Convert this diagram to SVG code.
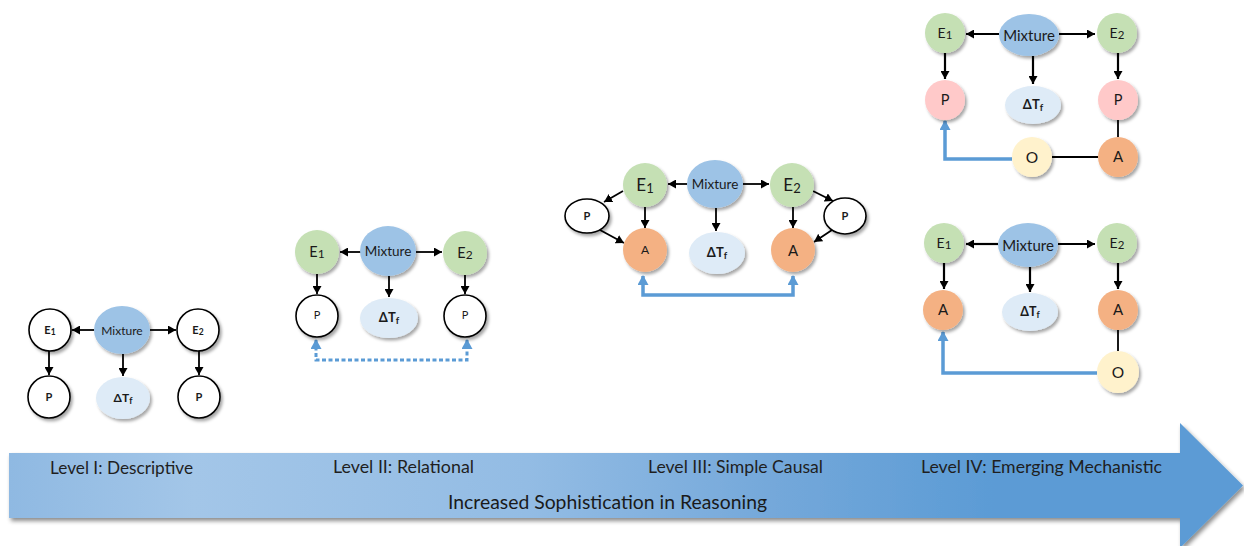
<svg xmlns="http://www.w3.org/2000/svg" width="1244" height="546" viewBox="0 0 1244 546">
  <defs>
    <style>
      text { font-family: Lato, "Liberation Sans", Arial, sans-serif; fill: #1a1a1a; text-anchor: middle; }
      .white { fill: #ffffff; stroke: #000000; stroke-width: 1.6; filter: url(#shadow); }
      .green { fill: #c5e0b4; filter: url(#shadow); }
      .mix { fill: #9dc3e6; filter: url(#shadow); }
      .dt { fill: #deebf7; filter: url(#shadow); }
      .orange { fill: #f4b183; filter: url(#shadow); }
      .pink { fill: #ffc9c9; filter: url(#shadow); }
      .yellow { fill: #fff2cc; filter: url(#shadow); }
      .edge { stroke: #000000; stroke-width: 1.8; fill: none; }
      .thick { stroke-width: 2.2; }
      .arr { marker-end: url(#head); }
      .blue { stroke: #5b9bd5; stroke-width: 3.5; fill: none; }
      .dotted { stroke-dasharray: 4 2.5; stroke-width: 3; }
      .b { font-weight: bold; }
      .lvl { font-size: 16.5px; fill: #1f1f1f; }
    </style>
    <filter id="shadow" x="-30%" y="-30%" width="170%" height="170%">
      <feDropShadow dx="2" dy="2.5" stdDeviation="1.6" flood-color="#000" flood-opacity="0.35"/>
    </filter>
    <filter id="bandShadow" x="-5%" y="-20%" width="110%" height="150%">
      <feDropShadow dx="2" dy="3" stdDeviation="2" flood-color="#000" flood-opacity="0.45"/>
    </filter>
    <linearGradient id="band" x1="9" y1="0" x2="1243" y2="0" gradientUnits="userSpaceOnUse">
      <stop offset="0" stop-color="#8fb9e2"/>
      <stop offset="0.15" stop-color="#a3c6e8"/>
      <stop offset="0.42" stop-color="#93bce4"/>
      <stop offset="0.62" stop-color="#74a8da"/>
      <stop offset="0.8" stop-color="#5b9bd5"/>
      <stop offset="1" stop-color="#5b9bd5"/>
    </linearGradient>
    <marker id="head" markerUnits="userSpaceOnUse" markerWidth="9" markerHeight="9" refX="8" refY="4.5" orient="auto">
      <path d="M0,0 L8,4.5 L0,9 z" fill="#000"/>
    </marker>
    <marker id="bhead" markerUnits="userSpaceOnUse" markerWidth="11" markerHeight="11" refX="9" refY="5.5" orient="auto-start-reverse">
      <path d="M0,0 L10,5.5 L0,11 z" fill="#5b9bd5"/>
    </marker>
  </defs>

  <!-- progression band -->
  <g id="progress-arrow">
    <polygon points="9,453 1180,453 1180,423 1243,485.5 1180,548 1180,518 9,518" fill="url(#band)" filter="url(#bandShadow)"/>
    <text class="lvl" x="121.5" y="474" textLength="143" lengthAdjust="spacingAndGlyphs">Level I: Descriptive</text>
    <text class="lvl" x="403.5" y="473" textLength="141" lengthAdjust="spacingAndGlyphs">Level II: Relational</text>
    <text class="lvl" x="735.5" y="473" textLength="175" lengthAdjust="spacingAndGlyphs">Level III: Simple Causal</text>
    <text class="lvl" x="1041.5" y="473" textLength="241" lengthAdjust="spacingAndGlyphs">Level IV: Emerging Mechanistic</text>
    <text x="607.5" y="509" font-size="18.5" textLength="319" lengthAdjust="spacingAndGlyphs">Increased Sophistication in Reasoning</text>
  </g>

  <!-- connectors -->
  <g id="connectors">
    <!-- Level I -->
    <line class="edge arr" x1="94" y1="330" x2="72" y2="330"/>
    <line class="edge arr" x1="150" y1="330" x2="176" y2="330"/>
    <line class="edge arr" x1="49" y1="351" x2="49" y2="375"/>
    <line class="edge arr" x1="123" y1="354" x2="123" y2="376"/>
    <line class="edge arr" x1="199" y1="351" x2="199" y2="375"/>
    <!-- Level II -->
    <line class="edge arr" x1="361" y1="252" x2="340" y2="252"/>
    <line class="edge arr" x1="416" y1="252" x2="442" y2="252"/>
    <line class="edge arr" x1="317" y1="274" x2="317" y2="294"/>
    <line class="edge arr" x1="389" y1="276" x2="389" y2="297"/>
    <line class="edge arr" x1="465" y1="275" x2="465" y2="294"/>
    <path class="blue dotted" d="M316,340 V360 H467 V340" marker-start="url(#bhead)" marker-end="url(#bhead)"/>
    <!-- Level III -->
    <line class="edge arr" x1="687" y1="184" x2="668" y2="184"/>
    <line class="edge arr" x1="743" y1="184" x2="769" y2="184"/>
    <line class="edge arr" x1="623" y1="191" x2="604" y2="202"/>
    <line class="edge arr" x1="600" y1="230" x2="624" y2="243"/>
    <line class="edge arr" x1="645" y1="207" x2="645" y2="228"/>
    <line class="edge arr" x1="716" y1="208" x2="716" y2="231"/>
    <line class="edge arr" x1="793" y1="207" x2="793" y2="228"/>
    <line class="edge arr" x1="813" y1="191" x2="833" y2="201"/>
    <line class="edge arr" x1="832" y1="230" x2="814" y2="242"/>
    <path class="blue" d="M643,276 V295 H793 V276" marker-start="url(#bhead)" marker-end="url(#bhead)"/>
    <!-- Level IV, top -->
    <line class="edge thick arr" x1="999" y1="34" x2="966" y2="34"/>
    <line class="edge thick arr" x1="1059" y1="34" x2="1095" y2="34"/>
    <line class="edge thick arr" x1="945" y1="53" x2="945" y2="79"/>
    <line class="edge thick arr" x1="1033" y1="56" x2="1033" y2="84"/>
    <line class="edge thick arr" x1="1118" y1="53" x2="1118" y2="79"/>
    <line class="edge" x1="1118" y1="120" x2="1118" y2="137"/>
    <line class="edge" x1="1052" y1="157" x2="1098" y2="157"/>
    <path class="blue" d="M1012,159 H945 V121" marker-end="url(#bhead)"/>
    <!-- Level IV, bottom -->
    <line class="edge thick arr" x1="998" y1="244" x2="966" y2="244"/>
    <line class="edge thick arr" x1="1058" y1="244" x2="1095" y2="244"/>
    <line class="edge thick arr" x1="944" y1="263" x2="944" y2="289"/>
    <line class="edge thick arr" x1="1030" y1="267" x2="1030" y2="292"/>
    <line class="edge thick arr" x1="1118" y1="263" x2="1118" y2="289"/>
    <line class="edge" x1="1118" y1="330" x2="1118" y2="351"/>
    <path class="blue" d="M1097,373 H943 V332" marker-end="url(#bhead)"/>
  </g>

  <!-- Level I nodes -->
  <g id="l1-e1"><circle class="white" cx="50" cy="330" r="21"/><text class="b" x="50" y="334" font-size="11">E<tspan font-size="8.5" dy="1">1</tspan></text></g>
  <g id="l1-mixture"><ellipse class="mix" cx="122" cy="330" rx="28" ry="24"/><text x="122" y="334.5" font-size="12">Mixture</text></g>
  <g id="l1-e2"><circle class="white" cx="198" cy="330" r="21"/><text class="b" x="198" y="334" font-size="11">E<tspan font-size="8.5" dy="1">2</tspan></text></g>
  <g id="l1-p1"><circle class="white" cx="49" cy="397" r="21"/><text class="b" x="49" y="401" font-size="11">P</text></g>
  <g id="l1-dtf"><ellipse class="dt" cx="123" cy="398" rx="27" ry="21"/><text class="b" x="123" y="402" font-size="12">ΔT<tspan font-size="9" dy="2">f</tspan></text></g>
  <g id="l1-p2"><circle class="white" cx="199" cy="397" r="21"/><text class="b" x="199" y="401" font-size="11">P</text></g>

  <!-- Level II nodes -->
  <g id="l2-e1"><circle class="green" cx="317" cy="252" r="22"/><text x="317" y="257" font-size="14.5">E<tspan font-size="12" dy="1">1</tspan></text></g>
  <g id="l2-mixture"><ellipse class="mix" cx="388" cy="251" rx="28" ry="25"/><text x="388" y="256" font-size="13.5">Mixture</text></g>
  <g id="l2-e2"><circle class="green" cx="465" cy="253" r="22"/><text x="465" y="258" font-size="14.5">E<tspan font-size="12" dy="1">2</tspan></text></g>
  <g id="l2-p1"><circle class="white" cx="317" cy="316" r="21"/><text x="317" y="319" font-size="11">P</text></g>
  <g id="l2-dtf"><ellipse class="dt" cx="389" cy="318" rx="29" ry="20"/><text class="b" x="389" y="322" font-size="13">ΔT<tspan font-size="9.5" dy="2">f</tspan></text></g>
  <g id="l2-p2"><circle class="white" cx="465" cy="316" r="21"/><text x="465" y="319" font-size="11">P</text></g>

  <!-- Level III nodes -->
  <g id="l3-e1"><circle class="green" cx="645" cy="185" r="22"/><text x="645" y="191" font-size="17">E<tspan font-size="13" dy="2">1</tspan></text></g>
  <g id="l3-mixture"><ellipse class="mix" cx="715" cy="184" rx="28" ry="24"/><text x="715" y="189" font-size="13.5">Mixture</text></g>
  <g id="l3-e2"><circle class="green" cx="792" cy="185" r="22"/><text x="792" y="191" font-size="17">E<tspan font-size="13" dy="2">2</tspan></text></g>
  <g id="l3-p1"><ellipse class="white" cx="587" cy="216" rx="22" ry="17"/><text class="b" x="587" y="220" font-size="11">P</text></g>
  <g id="l3-a1"><circle class="orange" cx="645" cy="250" r="22"/><text x="645" y="254" font-size="12">A</text></g>
  <g id="l3-dtf"><ellipse class="dt" cx="717" cy="253" rx="28" ry="21"/><text class="b" x="717" y="257" font-size="13">ΔT<tspan font-size="9.5" dy="2">f</tspan></text></g>
  <g id="l3-a2"><circle class="orange" cx="793" cy="250" r="22"/><text x="793" y="255.5" font-size="15">A</text></g>
  <g id="l3-p2"><ellipse class="white" cx="845" cy="216" rx="21" ry="18"/><text class="b" x="845" y="220" font-size="11">P</text></g>

  <!-- Level IV, top nodes -->
  <g id="l4a-e1"><circle class="green" cx="945" cy="33" r="20"/><text x="945" y="38" font-size="14">E<tspan font-size="11.5" dy="1">1</tspan></text></g>
  <g id="l4a-mixture"><ellipse class="mix" cx="1029" cy="35" rx="30" ry="21"/><text x="1029" y="40.5" font-size="15">Mixture</text></g>
  <g id="l4a-e2"><circle class="green" cx="1117" cy="33" r="20"/><text x="1117" y="38" font-size="14">E<tspan font-size="11.5" dy="1">2</tspan></text></g>
  <g id="l4a-p1"><circle class="pink" cx="945" cy="100" r="20"/><text x="945" y="105" font-size="14.5">P</text></g>
  <g id="l4a-dtf"><ellipse class="dt" cx="1033" cy="105" rx="28" ry="19"/><text class="b" x="1033" y="109" font-size="13">ΔT<tspan font-size="9.5" dy="2">f</tspan></text></g>
  <g id="l4a-p2"><circle class="pink" cx="1118" cy="100" r="20"/><text x="1118" y="105" font-size="14.5">P</text></g>
  <g id="l4a-o"><circle class="yellow" cx="1032" cy="157" r="20"/><text x="1032" y="162.5" font-size="15.5">O</text></g>
  <g id="l4a-a"><circle class="orange" cx="1118" cy="157" r="20"/><text x="1118" y="162" font-size="15">A</text></g>

  <!-- Level IV, bottom nodes -->
  <g id="l4b-e1"><circle class="green" cx="944" cy="243" r="20"/><text x="944" y="248" font-size="14">E<tspan font-size="11.5" dy="1">1</tspan></text></g>
  <g id="l4b-mixture"><ellipse class="mix" cx="1028" cy="245" rx="30" ry="22"/><text x="1028" y="250.5" font-size="15">Mixture</text></g>
  <g id="l4b-e2"><circle class="green" cx="1117" cy="243" r="20"/><text x="1117" y="248" font-size="14">E<tspan font-size="11.5" dy="1">2</tspan></text></g>
  <g id="l4b-a1"><circle class="orange" cx="943" cy="310" r="20"/><text x="943" y="315" font-size="15">A</text></g>
  <g id="l4b-dtf"><ellipse class="dt" cx="1030" cy="312" rx="28" ry="19"/><text class="b" x="1030" y="316" font-size="12.5">ΔT<tspan font-size="9" dy="2">f</tspan></text></g>
  <g id="l4b-a2"><circle class="orange" cx="1118" cy="310" r="20"/><text x="1118" y="315" font-size="15">A</text></g>
  <g id="l4b-o"><circle class="yellow" cx="1118" cy="372" r="21"/><text x="1118" y="377.5" font-size="15.5">O</text></g>
</svg>
